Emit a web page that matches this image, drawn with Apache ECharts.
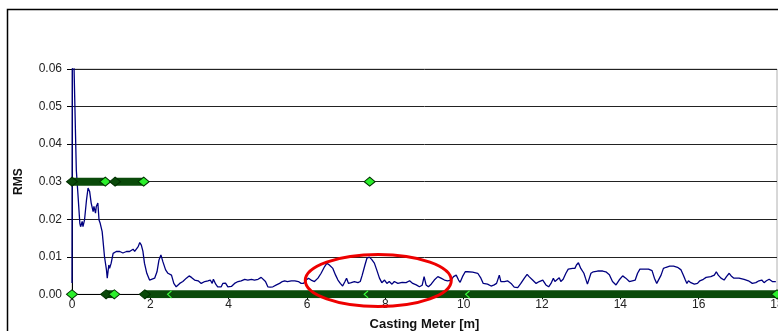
<!DOCTYPE html>
<html><head><meta charset="utf-8">
<script src="https://cdn.jsdelivr.net/npm/echarts@6/dist/echarts.min.js"></script>
<style>html,body{margin:0;padding:0;background:#fff}#c{width:778px;height:331px}</style>
</head><body><div id="c"></div>
<script>
// Casting meter [m] positions of the RMS curve
const rmsMeters = [0,0.01,0.04,0.11,0.15,0.2,0.22,0.26,0.28,0.32,0.37,0.41,0.45,0.49,0.54,0.56,0.6,0.62,0.66,0.69,0.72,0.77,0.79,0.83,0.88,0.9,0.94,0.96,1.0,1.05,1.09,1.13,1.17,1.22,1.26,1.3,1.34,1.39,1.43,1.47,1.52,1.56,1.6,1.64,1.69,1.73,1.77,1.81,1.85,1.91,1.98,2.03,2.11,2.17,2.22,2.27,2.32,2.39,2.45,2.54,2.6,2.66,2.7,2.75,2.83,2.92,2.99,3.05,3.13,3.22,3.3,3.39,3.47,3.53,3.58,3.61,3.67,3.72,3.77,3.81,3.85,3.92,3.98,4.07,4.15,4.24,4.32,4.41,4.49,4.58,4.66,4.75,4.83,4.88,4.94,5.0,5.06,5.13,5.22,5.3,5.37,5.43,5.5,5.6,5.69,5.72,5.78,5.85,5.91,5.98,6.04,6.12,6.19,6.28,6.36,6.45,6.51,6.57,6.66,6.73,6.79,6.85,6.91,6.97,7.01,7.06,7.13,7.21,7.3,7.36,7.41,7.48,7.53,7.59,7.65,7.72,7.78,7.85,7.91,7.98,8.04,8.1,8.17,8.23,8.32,8.43,8.53,8.62,8.7,8.79,8.87,8.94,8.99,9.04,9.1,9.17,9.25,9.34,9.42,9.51,9.59,9.68,9.74,9.81,9.87,9.91,9.97,10.04,10.1,10.23,10.36,10.44,10.5,10.61,10.7,10.78,10.84,10.91,10.95,11.04,11.12,11.21,11.29,11.38,11.46,11.55,11.62,11.67,11.76,11.85,11.93,12.02,12.1,12.17,12.23,12.29,12.33,12.38,12.44,12.48,12.54,12.61,12.67,12.72,12.78,12.84,12.88,12.93,12.99,13.03,13.07,13.11,13.16,13.2,13.25,13.31,13.42,13.55,13.63,13.72,13.8,13.89,13.97,14.06,14.1,14.14,14.23,14.27,14.38,14.44,14.5,14.61,14.72,14.81,14.87,14.93,14.98,15.04,15.1,15.17,15.26,15.36,15.46,15.55,15.61,15.66,15.7,15.74,15.8,15.89,15.97,16.03,16.12,16.19,16.24,16.31,16.4,16.45,16.5,16.57,16.65,16.71,16.78,16.83,16.9,17.03,17.16,17.27,17.37,17.46,17.54,17.61,17.67,17.73,17.8,17.88,17.97];
// RMS values
const rmsValues = [0.003,0.068,0.066,0.0331,0.0269,0.0189,0.018,0.0194,0.018,0.0198,0.0251,0.0283,0.0274,0.0243,0.022,0.0234,0.0216,0.0234,0.0243,0.0198,0.0189,0.0167,0.0145,0.010,0.0065,0.0043,0.0078,0.0069,0.0083,0.0109,0.0105,0.0114,0.0109,0.0114,0.0109,0.011,0.0109,0.0114,0.011,0.0114,0.0114,0.012,0.0114,0.0117,0.0127,0.0138,0.0131,0.0115,0.0083,0.0056,0.0038,0.0043,0.0043,0.006,0.0091,0.0105,0.0087,0.0065,0.0056,0.0051,0.0029,0.002,0.0016,0.0029,0.0034,0.0043,0.0049,0.0045,0.0038,0.0036,0.0029,0.0034,0.0036,0.0038,0.0029,0.004,0.0027,0.002,0.0016,0.002,0.0029,0.003,0.002,0.0021,0.0029,0.0034,0.0036,0.004,0.0038,0.004,0.0038,0.004,0.0045,0.004,0.0034,0.002,0.0019,0.002,0.0025,0.0029,0.0034,0.0036,0.0034,0.0036,0.0036,0.004,0.0034,0.0029,0.0029,0.0038,0.0043,0.0037,0.0034,0.0043,0.0056,0.0074,0.0083,0.0078,0.0069,0.0051,0.0038,0.0029,0.0022,0.0034,0.0043,0.0029,0.0031,0.0034,0.0031,0.0034,0.0051,0.0078,0.0096,0.0099,0.0093,0.0083,0.0065,0.0043,0.0031,0.0038,0.0029,0.0034,0.0027,0.0034,0.0029,0.0032,0.0031,0.0036,0.0029,0.0025,0.002,0.0024,0.0047,0.0025,0.002,0.0027,0.0038,0.0047,0.0043,0.0038,0.0036,0.0038,0.0047,0.0051,0.0038,0.0032,0.0047,0.006,0.006,0.0059,0.0056,0.0043,0.0029,0.0027,0.0022,0.0025,0.0029,0.0051,0.0034,0.0034,0.0036,0.0029,0.0019,0.0018,0.0029,0.0043,0.0053,0.0047,0.0038,0.0029,0.0034,0.0038,0.0025,0.002,0.0029,0.0043,0.0034,0.0038,0.0044,0.0034,0.004,0.0056,0.0067,0.0062,0.0069,0.0069,0.0078,0.0084,0.0069,0.0067,0.0056,0.0043,0.0027,0.0025,0.0056,0.006,0.0062,0.0062,0.006,0.0052,0.0034,0.0025,0.0038,0.0049,0.0051,0.0043,0.0034,0.0038,0.0038,0.0056,0.0067,0.0067,0.0067,0.0063,0.0043,0.0029,0.0034,0.0051,0.0069,0.0072,0.0075,0.0075,0.0072,0.0065,0.0051,0.0038,0.0029,0.0036,0.0031,0.0027,0.0029,0.0036,0.004,0.0045,0.0049,0.0047,0.0051,0.006,0.0051,0.0043,0.0038,0.0047,0.0056,0.0049,0.0043,0.0043,0.004,0.0036,0.0029,0.0031,0.0036,0.0038,0.0031,0.0036,0.004,0.0034,0.0034];
// Flag marker runs (start, end) in meters at level 0.03 and level 0.00
const flagLevelHigh = 0.03;
const flagRunsHigh = [[0,0.85],[1.1,1.83]];
const flagPointsHigh = [7.6];
const flagLevelLow = 0;
const flagRunsLow = [[0.87,1.08],[1.86,18]];
const flagPointsLow = [0];
const chevronsLow = [2.49,7.51,10.1];
// Axes
const xTickStep = 2, xMin = 0, xMax = 18;
const yTickStep = 0.01, yMin = 0, yMax = 0.06;
// Annotation ellipse (data coords of centre)
const ellipseCenter = [7.82, 0.00368];

const DARK = '#0a4a0a', BORDER = '#003000', LIME = '#2bf02b';
const chart = echarts.init(document.getElementById('c'), null, {renderer:'canvas'});

function runSeries(run, level){
  return {
    type:'line', silent:true, animation:false, z:4,
    symbol:'diamond', symbolSize:[11,9], showSymbol:true, showAllSymbol:true,
    lineStyle:{width:8, color:DARK, cap:'butt'},
    itemStyle:{borderWidth:1, borderColor:BORDER},
    data:[
      {value:[run[0],level], itemStyle:{color:DARK, borderColor:BORDER}},
      {value:[run[1],level], itemStyle:{color:LIME, borderColor:BORDER}}
    ]
  };
}
const series = [{
  type:'line', silent:true, animation:false, z:2,
  showSymbol:false, symbol:'none',
  lineStyle:{color:'#000080', width:1.3},
  data: rmsMeters.map((m,i)=>[m, rmsValues[i]])
}];
flagRunsHigh.forEach(r=>series.push(runSeries(r, flagLevelHigh)));
flagRunsLow.forEach(r=>series.push(runSeries(r, flagLevelLow)));
series.push({
  type:'scatter', silent:true, animation:false, z:5,
  symbol:'diamond', symbolSize:[11,9],
  itemStyle:{color:LIME, borderColor:BORDER, borderWidth:1, opacity:1},
  data: flagPointsHigh.map(x=>[x,flagLevelHigh]).concat(flagPointsLow.map(x=>[x,flagLevelLow]))
});
series.push({
  type:'scatter', silent:true, animation:false, z:6,
  symbol:'path://M10,0 L0,5 L10,10', symbolSize:[4,7],
  itemStyle:{color:'none', borderColor:'#3cff3c', borderWidth:1, opacity:1},
  data: chevronsLow.map(x=>[x,flagLevelLow])
});

const font = 'Liberation Sans, Arial, sans-serif';
chart.setOption({
  animation:false,
  backgroundColor:'#fff',
  grid:{left:72, right:1, top:69, bottom:36.7, containLabel:false, outerBoundsMode:'none',
        show:true, borderColor:'#b0b0b0', borderWidth:1, backgroundColor:'transparent'},
  xAxis:{
    type:'value', min:xMin, max:xMax, interval:xTickStep,
    name:'Casting Meter [m]', nameLocation:'middle', nameGap:24,
    nameTextStyle:{fontFamily:font, fontWeight:'bold', fontSize:13, color:'#111'},
    axisLine:{show:true, onZero:false, lineStyle:{color:'#000', width:1}},
    axisTick:{show:true, length:5, lineStyle:{color:'#000'}},
    axisLabel:{fontFamily:font, fontSize:12, color:'#222', margin:4},
    splitLine:{show:false}
  },
  yAxis:{
    type:'value', min:yMin, max:yMax, interval:yTickStep,
    name:'RMS', nameLocation:'middle', nameGap:47, nameRotate:90,
    nameTextStyle:{fontFamily:font, fontWeight:'bold', fontSize:12, color:'#111'},
    axisLine:{show:true, lineStyle:{color:'#000', width:1}},
    axisTick:{show:true, length:5, lineStyle:{color:'#000'}},
    axisLabel:{fontFamily:font, fontSize:12, color:'#222', margin:10, formatter:v=>v.toFixed(2)},
    splitLine:{show:true, lineStyle:{color:'#222', width:1}}
  },
  graphic:[{
    type:'rect', silent:true, z:100,
    shape:{x:7.5, y:9.5, width:900, height:500},
    style:{fill:'none', stroke:'#000', lineWidth:1.5}
  }],
  series: series
});
const c = chart.convertToPixel({gridIndex:0}, ellipseCenter);
chart.setOption({graphic:[{}, {
  type:'ellipse', silent:true, z:100,
  shape:{cx:c[0], cy:c[1], rx:73, ry:26},
  style:{fill:'none', stroke:'#ee0000', lineWidth:3}
}]});
</script></body></html>
